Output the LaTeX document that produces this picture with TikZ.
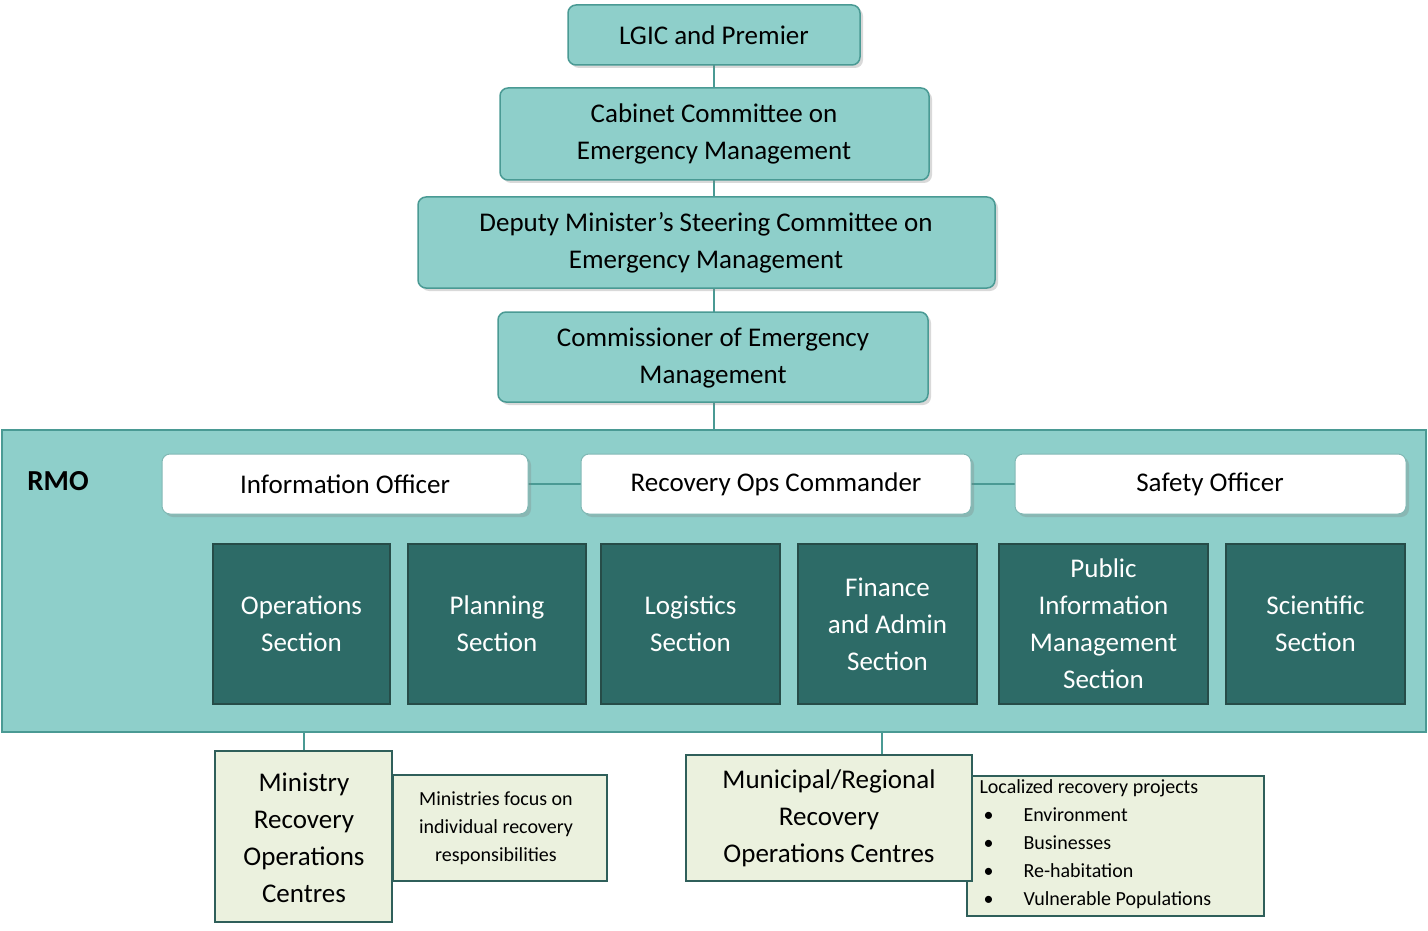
\documentclass[tikz,border=0pt]{standalone}
\usepackage{fontspec}
\setmainfont{Carlito}
\usetikzlibrary{shadows}
\definecolor{lt}{HTML}{8ECFCA}
\definecolor{dk}{HTML}{2D6B67}
\definecolor{bd}{HTML}{4A9A94}
\definecolor{lg}{HTML}{EBF1DE}
\definecolor{gb}{HTML}{2F5F5A}
\begin{document}
\begin{tikzpicture}[x=1pt,y=-1pt,
 top/.style={draw=bd,line width=1.5pt,fill=lt,rounded corners=8pt,drop shadow={shadow xshift=3pt,shadow yshift=-3pt,opacity=0.3}},
 wht/.style={draw=bd!70,line width=1pt,fill=white,rounded corners=8pt,drop shadow={shadow xshift=3pt,shadow yshift=-3pt,opacity=0.3}},
 dkb/.style={draw=gb!80!black,line width=1.5pt,fill=dk},
 grn/.style={draw=gb,line width=1.5pt,fill=lg},
 ln/.style={draw=bd,line width=2pt},
 big/.style={font=\fontsize{27}{37}\selectfont,align=center},
 sm/.style={font=\fontsize{20}{28}\selectfont}]
\useasboundingbox (0,0) rectangle (1428,931);
\draw[ln] (714,60)--(714,430);
\draw[ln] (304,732)--(304,751);
\draw[ln] (882,732)--(882,755);
\draw[top] (568,5) rectangle (860,65);
\node[big] (lgic) at (714,35) {LGIC and Premier};
\draw[top] (500,88) rectangle (929,180);
\node[big] (cab) at (714,134) {Cabinet Committee on\\Emergency Management};
\draw[top] (418,197) rectangle (995,288);
\node[big] (dep) at (706,243) {Deputy Minister’s Steering Committee on\\Emergency Management};
\draw[top] (498,312) rectangle (928,402);
\node[big] (com) at (713,358) {Commissioner of Emergency\\Management};
\draw[draw=bd,line width=1.5pt,fill=lt] (2,430) rectangle (1426,732);
\node[font=\fontsize{29}{30}\selectfont\bfseries] (rmo) at (58,481) {RMO};
\draw[ln] (528,484)--(1015,484);
\draw[wht] (162,454) rectangle (528,514);
\node[big] (info) at (345,484) {Information Officer};
\draw[wht] (581,454) rectangle (971,514);
\node[big] (rec) at (776,484) {Recovery Ops Commander};
\draw[wht] (1015,454) rectangle (1406,514);
\node[big] (saf) at (1210,484) {Safety Officer};
\foreach \a/\b/\t/\n in {213/390/{Operations\\Section}/o,408/586/{Planning\\Section}/p,601/780/{Logistics\\Section}/l,798/977/{Finance\\and Admin\\Section}/f,999/1208/{Public\\Information\\Management\\Section}/pu,1226/1405/{Scientific\\Section}/s}{
 \draw[dkb] (\a,544) rectangle (\b,704);
 \node[big,text=white] (\n) at ({(\a+\b)/2},624) {\t};
}
\draw[grn] (393,775) rectangle (607,881);
\node[sm,align=center] (mn) at (496,828) {Ministries focus on\\individual recovery\\responsibilities};
\draw[grn] (215,751) rectangle (392,922);
\node[big] (min) at (304,838) {Ministry\\Recovery\\Operations\\Centres};
\draw[grn] (967,776) rectangle (1264,916);
\node[sm,anchor=north west,align=left] (mun) at (976,776) {Localized recovery projects\\[0pt]
\makebox[44pt][l]{\hspace{4pt}•}Environment\\\makebox[44pt][l]{\hspace{4pt}•}Businesses\\\makebox[44pt][l]{\hspace{4pt}•}Re-habitation\\\makebox[44pt][l]{\hspace{4pt}•}Vulnerable Populations};
\draw[grn] (686,755) rectangle (972,881);
\node[big] (mr) at (829,818) {Municipal/Regional\\Recovery\\Operations Centres};
\end{tikzpicture}
\end{document}
